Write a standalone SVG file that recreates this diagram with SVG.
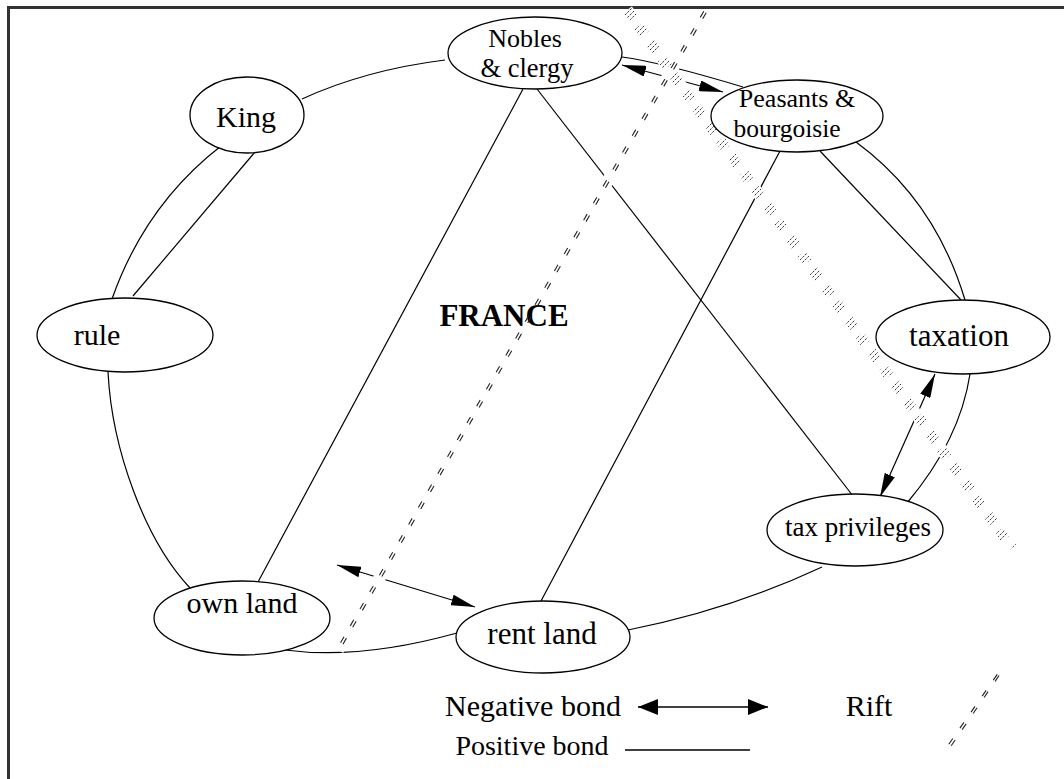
<svg xmlns="http://www.w3.org/2000/svg" width="1064" height="779" viewBox="0 0 1064 779">
  <defs>
    <style>
      .node ellipse { fill: #fff; stroke: #000; stroke-width: 1.3; }
      .node text, .legend text, .label text { font-family: "Liberation Serif", "Times New Roman", serif; fill: #000; text-anchor: middle; }
      .pos { fill: none; stroke: #000; stroke-width: 1.2; }
      .neg { fill: none; stroke: #000; stroke-width: 1.2; marker-start: url(#head); marker-end: url(#head); }
      .gap { fill: none; stroke: #fff; stroke-width: 12; }
      .rift-dash { fill: none; stroke: #222; stroke-width: 1.1; stroke-dasharray: 7 12.5; }
      .rift-hatch { fill: none; stroke: url(#hatch); stroke-width: 10; stroke-dasharray: 10 10; }
    </style>
    <!-- diagonal, slightly broken hatch used for the rift bands -->
    <pattern id="hatch" patternUnits="userSpaceOnUse" width="5" height="5">
      <path d="M-1,1 L1,-1 M0,5 L5,0 M4,6 L6,4" stroke="#333" stroke-width="1" stroke-dasharray="2.2 1.2"/>
    </pattern>
    <marker id="head" viewBox="0 0 24 11" refX="24" refY="5.5" markerWidth="24" markerHeight="11" markerUnits="userSpaceOnUse" orient="auto-start-reverse">
      <path d="M0,0 L24,5.5 L0,11 z" fill="#000"/>
    </marker>
    <marker id="head-big" viewBox="0 0 20 16" refX="20" refY="8" markerWidth="20" markerHeight="16" markerUnits="userSpaceOnUse" orient="auto-start-reverse">
      <path d="M0,0 L20,8 L0,16 z" fill="#000"/>
    </marker>
  </defs>

  <rect width="1064" height="779" fill="#fff"/>
  <!-- outer frame (runs off the right and bottom edges) -->
  <rect x="8.5" y="7.5" width="1100" height="820" fill="none" stroke="#333" stroke-width="3"/>

  <g id="connectors">
    <!-- positive bonds -->
    <path class="pos" d="M302,99 Q365,70 445,60"/>
    <path class="pos" d="M221,146 Q145,205 112,299"/>
    <path class="pos" d="M255,152 L133,296"/>
    <path class="pos" d="M108,372 C112,450 145,540 190,588"/>
    <path class="pos" d="M285,650 Q360,660 457,633"/>
    <path class="pos" d="M628,630 Q730,610 822,567"/>
    <path class="pos" d="M907,503 Q960,440 970,374"/>
    <path class="pos" d="M965,300 Q935,200 856,142"/>
    <path class="pos" d="M820,151 L961,300"/>
    <path class="pos" d="M622,57 Q660,62 743,87"/>
    <path class="pos" d="M523,89 L258,582"/>
    <path class="pos" d="M537,89 L853,496"/>
    <path class="pos" d="M780,151 L541,601"/>
    <!-- negative bonds -->
    <path class="neg" d="M622,65 L723,92"/>
    <path class="neg" d="M935,374 L880,497"/>
    <path class="neg" d="M337,565 L475,607"/>
  </g>

  <g id="rift-gaps">
    <path class="gap" d="M705,12 L338,650"/>
    <path class="gap" d="M627,10 L1012,548"/>
  </g>

  <g id="label-france" class="label">
    <text x="504" y="326" font-size="31" font-weight="bold">FRANCE</text>
  </g>

  <g id="rifts">
    <path class="rift-dash" d="M706.2,12.7 L339.2,650.7"/>
    <path class="rift-dash" d="M703.8,11.3 L336.8,649.3"/>
    <path class="rift-hatch" d="M627,10 L1012,548"/>
  </g>

  <g id="node-nobles" class="node">
    <ellipse cx="535" cy="53" rx="87" ry="36"/>
    <text x="525" y="47" font-size="26">Nobles</text>
    <text x="527" y="77" font-size="26.5">&amp; clergy</text>
  </g>
  <g id="node-peasants" class="node">
    <ellipse cx="797" cy="116" rx="86" ry="36"/>
    <text x="797" y="107" font-size="26">Peasants &amp;</text>
    <text x="787" y="137" font-size="25.5">bourgoisie</text>
  </g>
  <g id="node-king" class="node">
    <ellipse cx="247" cy="115" rx="57" ry="38"/>
    <text x="246" y="127" font-size="30">King</text>
  </g>
  <g id="node-rule" class="node">
    <ellipse cx="125" cy="335" rx="88" ry="37"/>
    <text x="97" y="345" font-size="30">rule</text>
  </g>
  <g id="node-taxation" class="node">
    <ellipse cx="963" cy="337" rx="87" ry="37"/>
    <text x="959" y="346" font-size="31">taxation</text>
  </g>
  <g id="node-tax-privileges" class="node">
    <ellipse cx="855" cy="530" rx="88" ry="36"/>
    <text x="858" y="536" font-size="27">tax privileges</text>
  </g>
  <g id="node-rent-land" class="node">
    <ellipse cx="543" cy="637" rx="87" ry="36"/>
    <text x="542" y="644" font-size="31">rent land</text>
  </g>
  <g id="node-own-land" class="node">
    <ellipse cx="242" cy="618" rx="88" ry="37"/>
    <text x="242" y="613" font-size="30">own land</text>
  </g>

  <g id="legend" class="legend">
    <text x="533" y="716" font-size="30">Negative bond</text>
    <path d="M638,707 L768,707" fill="none" stroke="#000" stroke-width="1.5" marker-start="url(#head-big)" marker-end="url(#head-big)"/>
    <text x="532" y="755" font-size="28">Positive bond</text>
    <path d="M625,750 L750,750" fill="none" stroke="#000" stroke-width="1.5"/>
    <text x="869" y="716" font-size="30">Rift</text>
    <path class="rift-dash" d="M951.2,745.8 L1000.2,673.8"/>
    <path class="rift-dash" d="M948.8,744.2 L998.8,672.2"/>
  </g>
</svg>
